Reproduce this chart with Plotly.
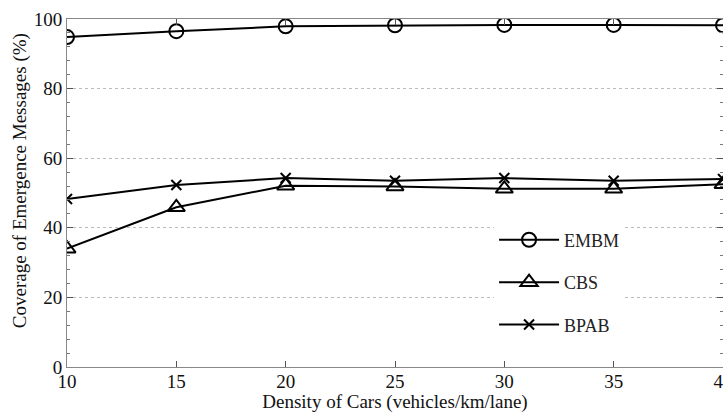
import plotly.graph_objects as go

density = [10, 15, 20, 25, 30, 35, 40]
embm = [94.8, 96.5, 97.9, 98.2, 98.3, 98.3, 98.2]
cbs = [34.0, 45.9, 52.1, 51.9, 51.2, 51.2, 52.5]
bpab = [48.3, 52.3, 54.3, 53.5, 54.3, 53.5, 54.0]

x_ticks = [10, 15, 20, 25, 30, 35, 40]
y_ticks = [0, 20, 40, 60, 80, 100]

FONT = "Liberation Serif"

fig = go.Figure()
series = [
    ("EMBM", embm, "circle-open", 14),
    ("CBS", cbs, "triangle-up-open", 15),
    ("BPAB", bpab, "x-thin-open", 10),
]
for name, vals, sym, sz in series:
    fig.add_trace(go.Scatter(
        x=density, y=vals, name=name, mode="lines+markers",
        legendgroup=name,
        line=dict(color="black", width=2),
        marker=dict(symbol=sym, size=sz, color="black",
                    line=dict(color="black", width=2)),
    ))

fig.update_layout(
    width=723, height=413,
    margin=dict(l=67, r=0, t=19, b=46, autoexpand=False),
    paper_bgcolor="white", plot_bgcolor="white",
    font=dict(family=FONT, size=17, color="black"),
    showlegend=True,
    legend=dict(
        x=0.651, y=0.418, xanchor="left", yanchor="top",
        bgcolor="white", borderwidth=0,
        font=dict(family=FONT, size=18, color="#222"),
        traceorder="grouped", tracegroupgap=16,
        itemwidth=60, entrywidth=200,
    ),
    xaxis=dict(
        range=[10, 40], tickvals=x_ticks, ticktext=[str(v) for v in x_ticks],
        ticks="inside", ticklen=6, tickcolor="#555",
        showline=True, linecolor="#888", linewidth=1, mirror="ticks",
        showgrid=False, zeroline=False, automargin=False,
        ticklabeloverflow="allow", ticklabelstandoff=-3,
        tickfont=dict(family=FONT, size=19, color="#111"),
        title=dict(text="Density of Cars (vehicles/km/lane)", standoff=2,
                   font=dict(family=FONT, size=19, color="#111")),
    ),
    yaxis=dict(
        range=[0, 100], tickvals=y_ticks, ticktext=[str(v) for v in y_ticks],
        ticks="inside", ticklen=6, tickcolor="#555",
        showline=True, linecolor="#888", linewidth=1, mirror="ticks",
        showgrid=True, gridcolor="#bbb", griddash="dot", gridwidth=1,
        zeroline=False, automargin=False,
        minor=dict(dtick=4, ticks="inside", ticklen=3, tickcolor="#777", showgrid=False),
        tickfont=dict(family=FONT, size=19, color="#111"),
    ),
    annotations=[dict(
        text="Coverage of Emergence Messages (%)", textangle=-90,
        xref="paper", yref="paper", x=-0.0716, y=0.534,
        xanchor="center", yanchor="middle", showarrow=False,
        font=dict(family=FONT, size=19, color="#111"),
    )],
)

fig.write_html("out.html", config={"displayModeBar": False},
               post_script="document.body.style.margin='0';document.body.style.padding='0';")
